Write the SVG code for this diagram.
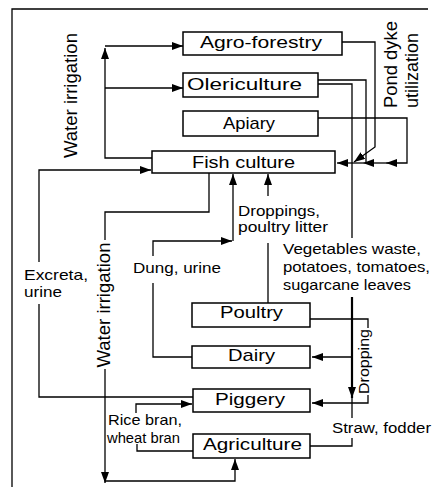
<svg xmlns="http://www.w3.org/2000/svg" width="433" height="491" viewBox="0 0 433 491">
  <style>
    .frame { fill: none; stroke: #000; stroke-width: 1.3; }
    .conn path { fill: none; stroke: #000; stroke-width: 1.3; }
    .conn path.thick { stroke-width: 2.2; }
    .node rect { fill: #fff; stroke: #000; stroke-width: 1.5; }
    text { font-family: "Liberation Sans", Arial, sans-serif; fill: #000; }
    .node text { font-size: 17px; }
    .note { font-size: 15px; }
    .vert { font-size: 18px; }
  </style>
  <defs>
    <marker id="arrow" markerUnits="userSpaceOnUse" markerWidth="12" markerHeight="9" refX="11" refY="4" orient="auto">
      <path d="M0,0 L11,4 L0,8 z" fill="#000"/>
    </marker>
  </defs>

  <rect width="433" height="491" fill="#fff"/>

  <!-- page border (top and left edges) -->
  <path class="frame" d="M12,487 V9 H428"/>

  <g id="connectors" class="conn">
    <!-- water irrigation from fish culture to the dyke crops -->
    <path d="M152,158 H105 V48" marker-end="url(#arrow)"/>
    <path d="M105,46 H183" marker-end="url(#arrow)"/>
    <path d="M105,88 H183" marker-end="url(#arrow)"/>

    <!-- excreta, urine: piggery to fish culture -->
    <path d="M193,397 H39 V304"/>
    <path d="M39,262 V170 H151" marker-end="url(#arrow)"/>

    <!-- water irrigation from fish culture to agriculture -->
    <path d="M209,173 V212 H105 V240"/>
    <path d="M105,369 V483" marker-end="url(#arrow)"/>
    <path d="M105,481 H235 V459" marker-end="url(#arrow)"/>

    <!-- rice bran, wheat bran: agriculture to piggery -->
    <path d="M193,451 H137 V444"/>
    <path d="M136,413 V404 H192" marker-end="url(#arrow)"/>

    <!-- dung, urine: dairy to fish culture -->
    <path d="M192,357 H153 V283"/>
    <path d="M153,256 V241 H232" marker-end="url(#arrow)"/>
    <path d="M233,241 V174" marker-end="url(#arrow)"/>

    <!-- droppings, poultry litter: poultry to fish culture -->
    <path d="M268,303 V243"/>
    <path d="M268,196 V174" marker-end="url(#arrow)"/>

    <!-- pond dyke utilization: agro-forestry, olericulture, apiary to fish culture -->
    <path d="M342,42 H375 V147 L354,162" marker-end="url(#arrow)"/>
    <path d="M318,80 H366 V163"/>
    <path d="M318,118 H407 V163 H386" marker-end="url(#arrow)"/>
    <path d="M386,163 H363" marker-end="url(#arrow)"/>
    <path d="M363,163 H337" marker-end="url(#arrow)"/>

    <!-- vegetables waste: olericulture to dairy and piggery -->
    <path d="M318,84 H352 V238"/>
    <path class="thick" d="M352,297 V398" marker-end="url(#arrow)"/>
    <path d="M352,357 H312" marker-end="url(#arrow)"/>

    <!-- dropping: poultry to piggery -->
    <path d="M310,319 H368 V328"/>
    <path d="M368,395 V403 H312" marker-end="url(#arrow)"/>

    <!-- straw, fodder: agriculture up to the feed line -->
    <path d="M310,446 H352 V438"/>
    <path d="M352,418 V398"/>
  </g>

  <g id="agro-forestry" class="node">
    <rect x="183" y="32" width="159" height="23"/>
    <text x="200" y="48" textLength="122" lengthAdjust="spacingAndGlyphs">Agro-forestry</text>
  </g>
  <g id="olericulture" class="node">
    <rect x="183" y="73" width="135" height="24"/>
    <text x="187" y="90" textLength="115" lengthAdjust="spacingAndGlyphs">Olericulture</text>
  </g>
  <g id="apiary" class="node">
    <rect x="183" y="111" width="135" height="25"/>
    <text x="223" y="129" textLength="52" lengthAdjust="spacingAndGlyphs">Apiary</text>
  </g>
  <g id="fish-culture" class="node">
    <rect x="152" y="151" width="183" height="22"/>
    <text x="192" y="168" textLength="103" lengthAdjust="spacingAndGlyphs">Fish culture</text>
  </g>
  <g id="poultry" class="node">
    <rect x="192" y="303" width="118" height="24"/>
    <text x="220" y="318" textLength="63" lengthAdjust="spacingAndGlyphs">Poultry</text>
  </g>
  <g id="dairy" class="node">
    <rect x="192" y="346" width="118" height="22"/>
    <text x="228" y="361" textLength="47" lengthAdjust="spacingAndGlyphs">Dairy</text>
  </g>
  <g id="piggery" class="node">
    <rect x="193" y="389" width="117" height="23"/>
    <text x="215" y="405" textLength="70" lengthAdjust="spacingAndGlyphs">Piggery</text>
  </g>
  <g id="agriculture" class="node">
    <rect x="193" y="434" width="117" height="24"/>
    <text x="203" y="450" textLength="99" lengthAdjust="spacingAndGlyphs">Agriculture</text>
  </g>

  <g id="labels">
    <text class="vert" transform="translate(77,95.5) rotate(-90)" text-anchor="middle" textLength="125" lengthAdjust="spacingAndGlyphs">Water irrigation</text>
    <text class="vert" transform="translate(110,305) rotate(-90)" text-anchor="middle" textLength="125" lengthAdjust="spacingAndGlyphs">Water irrigation</text>
    <text class="vert" transform="translate(397,108) rotate(-90)" textLength="87" lengthAdjust="spacingAndGlyphs">Pond dyke</text>
    <text class="vert" transform="translate(418,108) rotate(-90)" textLength="75" lengthAdjust="spacingAndGlyphs">utilization</text>
    <text class="note" transform="translate(369,361.5) rotate(-90)" text-anchor="middle" textLength="65" lengthAdjust="spacingAndGlyphs">Dropping</text>

    <text class="note" x="238" y="216" textLength="82" lengthAdjust="spacingAndGlyphs">Droppings,</text>
    <text class="note" x="238" y="232" textLength="90" lengthAdjust="spacingAndGlyphs">poultry litter</text>

    <text class="note" x="283" y="254" textLength="138" lengthAdjust="spacingAndGlyphs">Vegetables waste,</text>
    <text class="note" x="283" y="272" textLength="147" lengthAdjust="spacingAndGlyphs">potatoes, tomatoes,</text>
    <text class="note" x="283" y="290" textLength="128" lengthAdjust="spacingAndGlyphs">sugarcane leaves</text>

    <text class="note" x="133" y="273" textLength="88" lengthAdjust="spacingAndGlyphs">Dung, urine</text>

    <text class="note" x="24" y="280" textLength="64" lengthAdjust="spacingAndGlyphs">Excreta,</text>
    <text class="note" x="24" y="297" textLength="38" lengthAdjust="spacingAndGlyphs">urine</text>

    <text class="note" x="108" y="425" textLength="74" lengthAdjust="spacingAndGlyphs">Rice bran,</text>
    <text class="note" x="107" y="443" textLength="73" lengthAdjust="spacingAndGlyphs">wheat bran</text>

    <text class="note" x="332" y="433" textLength="99" lengthAdjust="spacingAndGlyphs">Straw, fodder</text>
  </g>
</svg>
